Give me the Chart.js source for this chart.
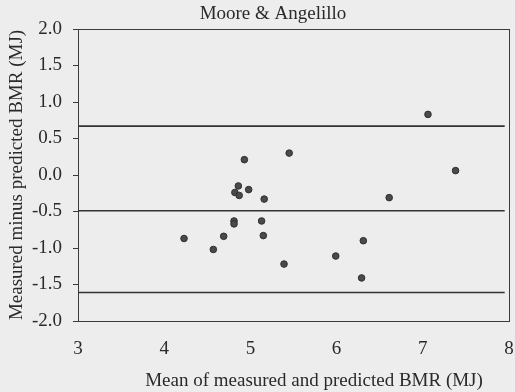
<!DOCTYPE html>
<html>
<head>
<meta charset="utf-8">
<script src="https://cdn.jsdelivr.net/npm/chart.js@4/dist/chart.umd.min.js"></script>
<style>
  html, body { margin: 0; padding: 0; background: #ededed; }
  canvas { display: block; }
</style>
</head>
<body>
<canvas id="chart" width="515" height="392"></canvas>
<script>
// =====================
// DATA
// =====================
const meanBmr = [7.06, 5.45, 4.93, 7.38, 4.86, 4.82, 4.87, 4.98, 5.16, 6.61,
                 4.81, 4.81, 5.13, 5.15, 4.69, 4.23, 4.57, 5.39, 5.99, 6.31, 6.29];
const diffBmr = [0.83, 0.30, 0.21, 0.06, -0.15, -0.24, -0.28, -0.20, -0.33, -0.31,
                 -0.63, -0.67, -0.63, -0.83, -0.84, -0.87, -1.02, -1.22, -1.11, -0.90, -1.41];
const limitLines = [0.67, -0.49, -1.61]; // upper limit, mean, lower limit
const lineRange = [3, 7.95];
const xTicks = [3, 4, 5, 6, 7, 8];
const yTicks = [2.0, 1.5, 1.0, 0.5, 0.0, -0.5, -1.0, -1.5, -2.0];
const chartTitle = 'Moore & Angelillo';
const xTitle = 'Mean of measured and predicted BMR (MJ)';
const yTitle = 'Measured minus predicted BMR (MJ)';

const FONT = "'Liberation Serif', 'Times New Roman', serif";
const INK = '#2a2a2a';

// =====================
// BUILD DATASETS
// =====================
const points = meanBmr.map((x, i) => ({ x: x, y: diffBmr[i] }));

const lineSets = limitLines.map(v => ({
  type: 'line',
  data: lineRange.map(x => ({ x: x, y: v })),
  borderColor: '#333',
  borderWidth: 1.6,
  pointRadius: 0,
  fill: false
}));

// frame round the plot area + the two texts that sit off-centre in the scan
const frame = {
  id: 'frame',
  afterDraw(chart) {
    const a = chart.chartArea;
    const ctx = chart.ctx;
    ctx.save();
    ctx.strokeStyle = '#3a3a3a';
    ctx.lineWidth = 1;
    ctx.strokeRect(a.left + 0.5, a.top + 0.5, a.right - a.left, a.bottom - a.top);

    ctx.fillStyle = INK;
    ctx.textAlign = 'center';
    ctx.textBaseline = 'middle';
    ctx.font = '19px ' + FONT;
    ctx.fillText(chartTitle, a.left + 195, a.top - 15);
    ctx.fillText(xTitle, a.left + 236, a.bottom + 60);
    ctx.restore();
  }
};

new Chart(document.getElementById('chart'), {
  type: 'scatter',
  data: {
    datasets: [{
      data: points,
      backgroundColor: '#4a4a4a',
      borderColor: '#2e2e2e',
      borderWidth: 1,
      pointRadius: 3.3,
      pointHoverRadius: 3.3
    }].concat(lineSets)
  },
  options: {
    responsive: false,
    animation: false,
    devicePixelRatio: 1,
    layout: { padding: { left: 0, right: 6, top: 29, bottom: 0 } },
    plugins: {
      legend: { display: false },
      tooltip: { enabled: false },
      title: { display: false }
    },
    scales: {
      x: {
        type: 'linear',
        min: 3,
        max: 8,
        afterBuildTicks: s => { s.ticks = xTicks.map(v => ({ value: v })); },
        afterFit: s => { s.height = 71; s.paddingLeft = 0; s.paddingRight = 0; },
        grid: { display: false, drawTicks: false },
        border: { display: true, color: '#3a3a3a', width: 1 },
        ticks: {
          color: INK,
          padding: 17,
          font: { family: FONT, size: 19 },
          callback: v => String(v)
        },
        title: { display: false }
      },
      y: {
        type: 'linear',
        min: -2,
        max: 2,
        afterBuildTicks: s => { s.ticks = yTicks.map(v => ({ value: v })); },
        afterFit: s => { s.width = 78; s.paddingTop = 0; s.paddingBottom = 0; },
        grid: { drawOnChartArea: false, drawTicks: true, tickLength: 5, color: '#3a3a3a' },
        border: { display: true, color: '#3a3a3a', width: 1 },
        ticks: {
          color: INK,
          padding: 11,
          font: { family: FONT, size: 19 },
          callback: v => v.toFixed(1)
        },
        title: {
          display: true,
          text: yTitle,
          color: INK,
          font: { family: FONT, size: 19, lineHeight: 1.2 },
          padding: { top: 6, bottom: 0 }
        }
      }
    }
  },
  plugins: [frame]
});
</script>
</body>
</html>
